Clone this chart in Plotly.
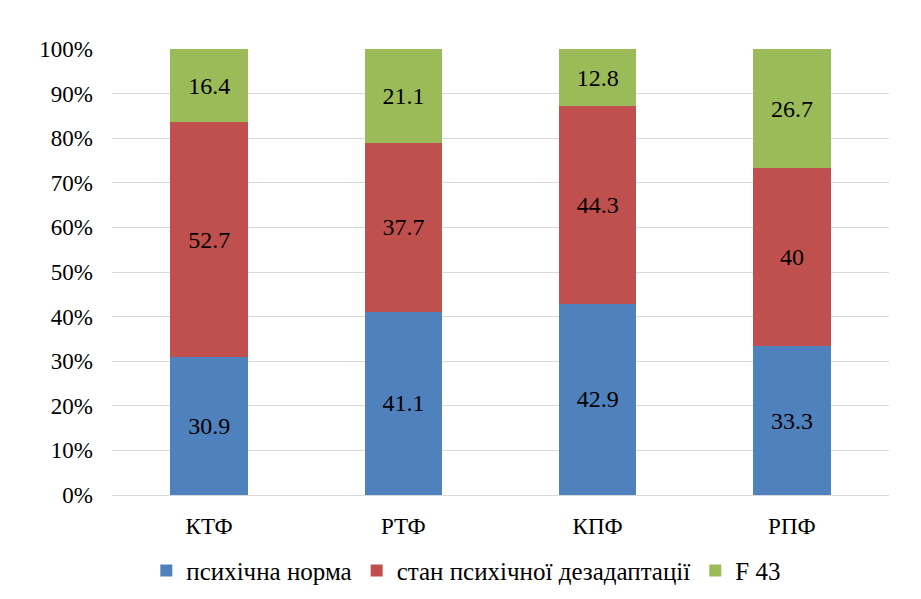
import plotly.graph_objects as go

categories = ["КТФ", "РТФ", "КПФ", "РПФ"]
norma = [30.9, 41.1, 42.9, 33.3]
dezadapt = [52.7, 37.7, 44.3, 40]
f43 = [16.4, 21.1, 12.8, 26.7]

series = [
    ("психічна норма", norma, "#4F81BD"),
    ("стан психічної дезадаптації", dezadapt, "#C0504D"),
    ("F 43", f43, "#9BBB59"),
]

font_family = "Liberation Serif, Times New Roman, serif"

fig = go.Figure()
for name, vals, color in series:
    fig.add_trace(go.Bar(
        x=categories, y=vals, name=name,
        marker=dict(color=color, line=dict(width=0)),
        text=[("%g" % v) for v in vals],
        textposition="inside",
        insidetextanchor="middle",
        textfont=dict(family=font_family, size=24, color="black"),
        textangle=0,
    ))

fig.update_layout(
    barmode="stack",
    barnorm="percent",
    bargap=0.6,
    width=921, height=599,
    margin=dict(l=104, r=40, t=41, b=112),
    paper_bgcolor="white",
    plot_bgcolor="white",
    font=dict(family=font_family, size=23, color="black"),
    showlegend=True,
    legend=dict(
        orientation="h", x=0.456, xanchor="center",
        y=-0.17, yanchor="middle",
        font=dict(family=font_family, size=25, color="black"),
        itemwidth=30,
        traceorder="normal",
    ),
    uniformtext=dict(minsize=10, mode="show"),
)
fig.update_yaxes(
    range=[0, 100], dtick=10, ticksuffix="%",
    showgrid=True, gridcolor="#D9D9D9", gridwidth=1,
    zeroline=False, showline=False,
    ticks="", ticklen=0, ticklabelstandoff=18,
    tickfont=dict(family=font_family, size=23, color="black"),
)
fig.update_xaxes(
    showgrid=False, showline=True, linecolor="#D9D9D9", linewidth=1,
    ticks="", ticklabelstandoff=10,
    tickfont=dict(family=font_family, size=23, color="black"),
)

fig.write_html("out.html")
